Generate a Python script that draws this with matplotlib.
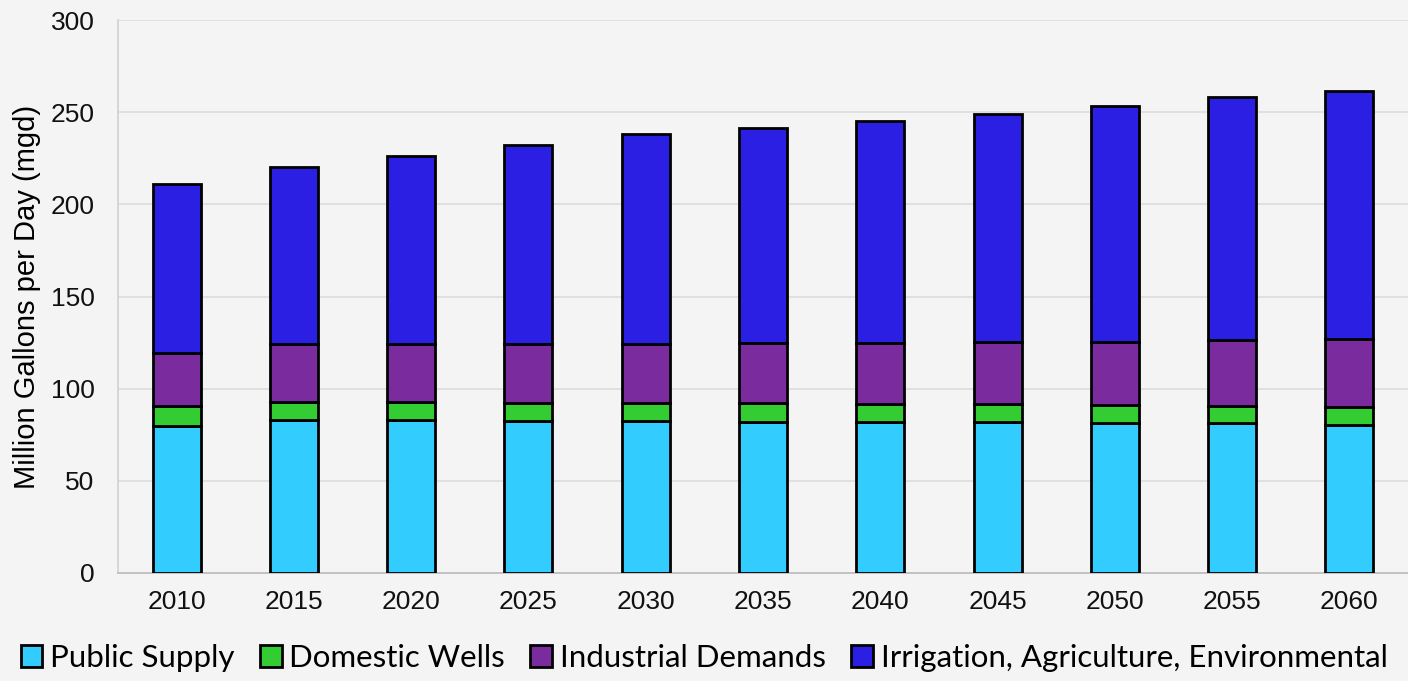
import matplotlib.pyplot as plt
import numpy as np

years = ['2010', '2015', '2020', '2025', '2030', '2035', '2040', '2045', '2050', '2055', '2060']
public_supply = [80, 83, 83, 82.5, 82.5, 82, 82, 82, 81.5, 81.5, 80.5]
domestic_wells = [10.5, 10, 10, 9.5, 9.5, 10, 9.5, 9.5, 9.5, 9, 9.5]
industrial = [29, 31, 31, 32, 32.5, 33, 33.5, 34, 34.5, 36, 37]
irrigation = [91.5, 96, 102, 108, 113.5, 116.5, 120, 123.5, 128, 131.5, 134.5]

series = [
    ('Public Supply', public_supply, '#33CCFF'),
    ('Domestic Wells', domestic_wells, '#33CC33'),
    ('Industrial Demands', industrial, '#7A2C9E'),
    ('Irrigation, Agriculture, Environmental', irrigation, '#2B1FE3'),
]

bg = '#F4F4F4'
fig = plt.figure(figsize=(14.08, 6.81), dpi=100, facecolor=bg)
ax = fig.add_axes([0.0838, 0.1586, 0.9162, 0.812], facecolor=bg)

x = np.arange(len(years))
bottom = np.zeros(len(years))
for name, vals, color in series:
    ax.bar(x, vals, width=0.41, bottom=bottom, color=color, edgecolor='black',
           linewidth=2, label=name, zorder=3)
    bottom += np.array(vals)

ax.set_xlim(-0.5, 10.5)
ax.set_ylim(0, 300)
ax.set_yticks(range(0, 301, 50))
ax.set_xticks(x)
ax.set_xticklabels(years)
ax.tick_params(axis='both', length=0, labelsize=19, colors='#111111')
ax.tick_params(axis='y', pad=17)
ax.tick_params(axis='x', pad=12)
for lbl in ax.get_xticklabels() + ax.get_yticklabels():
    lbl.set_family('Liberation Sans')

ax.grid(axis='y', color='#DDDDDD', linewidth=1.2, zorder=0)
for s in ['top', 'right']:
    ax.spines[s].set_visible(False)
ax.spines['left'].set_color('#D0D0D0')
ax.spines['bottom'].set_color('#BBBBBB')
ax.spines['left'].set_linewidth(1.2)
ax.spines['bottom'].set_linewidth(1.2)

ax.set_ylabel('Million Gallons per Day (mgd)', fontsize=21, family='Liberation Sans',
              labelpad=7)

fig.legend(loc='center', bbox_to_anchor=(0.5, 0.034), ncol=4, frameon=False,
           prop={'family': ['Lato', 'DejaVu Sans'], 'size': 22.5},
           handlelength=0.7, handleheight=0.7, handletextpad=0.25, columnspacing=0.8)

fig.savefig('out.png', dpi=100, facecolor=bg)
